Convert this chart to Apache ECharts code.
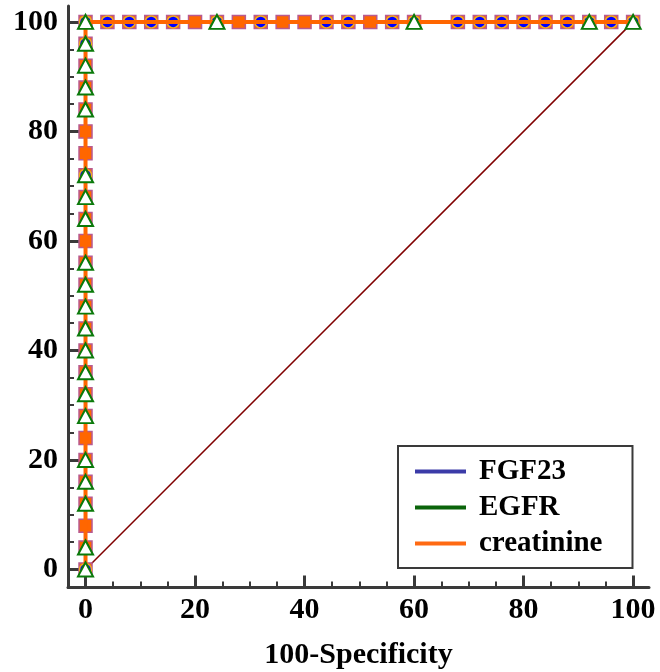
<!DOCTYPE html>
<html>
<head>
<meta charset="utf-8">
<script src="https://cdn.jsdelivr.net/npm/echarts@6/dist/echarts.min.js"></script>
<style>
  html, body { margin: 0; padding: 0; background: #fff; }
  #chart { width: 660px; height: 672px; }
</style>
</head>
<body>
<div id="chart"></div>
<script>
// ROC points (100-Specificity, Sensitivity)
const fgf23Fpr = [0, 0, 0, 0, 4, 8, 12, 16, 24, 32, 44, 48, 56, 60, 68, 72, 76, 80, 84, 88, 92, 96, 100];
const fgf23Tpr = [0, 72, 96, 100, 100, 100, 100, 100, 100, 100, 100, 100, 100, 100, 100, 100, 100, 100, 100, 100, 100, 100, 100];

const egfrFpr = [0, 0, 0, 0, 0, 0, 0, 0, 0, 0, 0, 0, 0, 0, 0, 0, 0, 0, 0, 0, 0, 24, 60, 92, 100];
const egfrTpr = [0, 4, 12, 16, 20, 28, 32, 36, 40, 44, 48, 52, 56, 64, 68, 72, 84, 88, 92, 96, 100, 100, 100, 100, 100];

const creatinineFpr = [0, 0, 0, 0, 0, 0, 0, 0, 0, 0, 0, 0, 0, 0, 0, 0, 0, 0, 0, 0, 0, 0, 0, 0, 0, 0,
  4, 8, 12, 16, 20, 24, 28, 32, 36, 40, 44, 48, 52, 56, 60, 68, 72, 76, 80, 84, 88, 92, 96, 100];
const creatinineTpr = [0, 4, 8, 12, 16, 20, 24, 28, 32, 36, 40, 44, 48, 52, 56, 60, 64, 68, 72, 76, 80, 84, 88, 92, 96, 100,
  100, 100, 100, 100, 100, 100, 100, 100, 100, 100, 100, 100, 100, 100, 100, 100, 100, 100, 100, 100, 100, 100, 100, 100];

const refFpr = [0, 100];
const refTpr = [0, 100];

const majorTicks = [0, 20, 40, 60, 80, 100];
const minorTicks = [5, 10, 15, 25, 30, 35, 45, 50, 55, 65, 70, 75, 85, 90, 95];

const seriesNames = ['FGF23', 'EGFR', 'creatinine'];

function pairs(xs, ys) {
  return xs.map((x, i) => [x, ys[i]]);
}

const font = "'Liberation Serif', 'Times New Roman', serif";
const axisColor = '#3a3a3a';
const labelStyle = { fontFamily: font, fontWeight: 'bold', fontSize: 30, color: '#000' };

function majorAxis(extra) {
  return Object.assign({
    type: 'value',
    min: -3.2,
    max: 102.9,
    axisLine: { show: true, onZero: false, lineStyle: { color: axisColor, width: 3 } },
    axisTick: { show: true, inside: true, length: 12, customValues: majorTicks, lineStyle: { color: axisColor, width: 3 } },
    splitLine: { show: false }
  }, extra);
}

function minorAxis(extra) {
  return Object.assign({
    type: 'value',
    min: -3.2,
    max: 102.9,
    axisLine: { show: false, onZero: false },
    axisTick: { show: true, inside: true, length: 6, customValues: minorTicks, lineStyle: { color: axisColor, width: 2 } },
    axisLabel: { show: false },
    splitLine: { show: false }
  }, extra);
}

const chart = echarts.init(document.getElementById('chart'));

chart.setOption({
  animation: false,
  backgroundColor: '#fff',
  grid: { left: 68, right: 11, top: 6, bottom: 84.5, outerBoundsMode: 'none', containLabel: false },
  xAxis: [
    majorAxis({
      position: 'bottom',
      name: '100-Specificity',
      nameLocation: 'middle',
      nameGap: 53,
      nameTextStyle: labelStyle,
      axisLabel: Object.assign({ customValues: majorTicks, margin: 8 }, labelStyle)
    }),
    minorAxis({ position: 'bottom' })
  ],
  yAxis: [
    majorAxis({
      min: -3.3,
      position: 'left',
      axisLabel: Object.assign({ customValues: majorTicks, margin: 10 }, labelStyle)
    }),
    minorAxis({ min: -3.3, position: 'left' })
  ],
  legend: {
    data: [
      { name: 'FGF23', itemStyle: { color: '#3b3ba8', borderWidth: 0 } },
      { name: 'EGFR', itemStyle: { color: '#0a640a', borderWidth: 0 } },
      { name: 'creatinine', itemStyle: { color: '#ff6a13', borderWidth: 0 } }
    ],
    orient: 'vertical',
    left: 398,
    top: 446,
    padding: [11, 30, 10, 17],
    itemGap: 7,
    itemWidth: 51,
    itemHeight: 4,
    icon: 'rect',
    borderColor: axisColor,
    borderWidth: 2,
    selectedMode: false,
    textStyle: { fontFamily: font, fontWeight: 'bold', fontSize: 29, color: '#000', padding: [0, 0, 0, 8] }
  },
  series: [
    {
      name: 'reference',
      type: 'line',
      data: pairs(refFpr, refTpr),
      showSymbol: false,
      lineStyle: { color: '#800000', width: 1.5 },
      z: 1
    },
    {
      name: seriesNames[2],
      type: 'scatter',
      data: pairs(creatinineFpr, creatinineTpr),
      symbol: 'rect',
      symbolSize: 13,
      itemStyle: { color: '#ff6600', borderColor: '#b85a90', borderWidth: 1.5, opacity: 1 },
      z: 2
    },
    {
      name: seriesNames[0],
      type: 'line',
      data: pairs(fgf23Fpr, fgf23Tpr),
      symbol: 'circle',
      symbolSize: 12,
      lineStyle: { color: '#3b3ba8', width: 3 },
      itemStyle: { color: '#0000ff', borderColor: '#f2ac1e', borderWidth: 1.5 },
      z: 3
    },
    {
      name: seriesNames[1],
      type: 'line',
      data: pairs(egfrFpr, egfrTpr),
      showSymbol: false,
      lineStyle: { color: '#0a640a', width: 3 },
      z: 3
    },
    {
      name: seriesNames[2],
      type: 'line',
      data: pairs(creatinineFpr, creatinineTpr),
      showSymbol: false,
      lineStyle: { color: '#ff6600', width: 4 },
      z: 4
    },
    {
      name: seriesNames[1],
      type: 'scatter',
      data: pairs(egfrFpr, egfrTpr),
      symbol: 'triangle',
      symbolSize: [15, 14],
      itemStyle: { color: '#ffffff', borderColor: '#0a7a0a', borderWidth: 2, opacity: 1 },
      z: 5
    }
  ]
});
</script>
</body>
</html>
